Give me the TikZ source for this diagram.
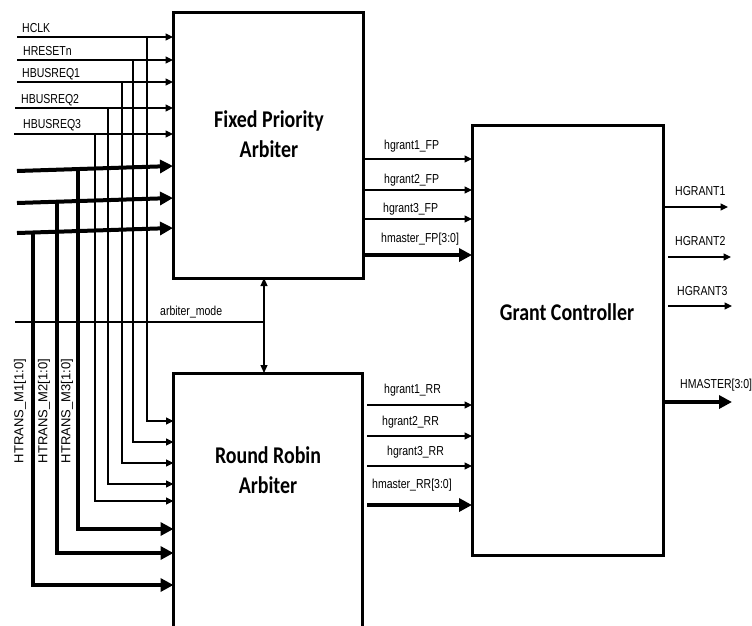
\documentclass[tikz,border=0pt]{standalone}
\usepackage{fontspec}
\setmainfont{Liberation Sans}
\newfontfamily\titlefont{Carlito}
\usetikzlibrary{arrows.meta}
\begin{document}
\begin{tikzpicture}[x=1pt,y=-1pt,
  box/.style={draw,line width=3pt,inner sep=0pt,outer sep=0pt},
  wire/.style={line width=1.1pt},
  wirearr/.style={line width=1.1pt,-{Triangle[length=7.5pt,width=7pt]}},
  bus/.style={line width=4pt},
  busarr/.style={line width=4pt,line join=miter,-{Triangle[length=13pt,width=13pt]}},
  lbl/.style={font=\fontsize{13}{15}\selectfont,inner sep=0pt,anchor=base west,xscale=0.81},
  vlbl/.style={font=\fontsize{13}{15}\selectfont,inner sep=0pt,rotate=90},
  ttl/.style={font=\titlefont\bfseries\fontsize{24}{30}\selectfont,align=center,xscale=0.83,inner sep=0pt}]
\useasboundingbox (0,0) rectangle (752,625);

% blocks
\node[box,minimum width=190pt,minimum height=266pt] (fp) at (268,145) {};
\node[box,minimum width=189pt,minimum height=267pt] (rr) at (268,506.5) {};
\node[box,minimum width=191pt,minimum height=430pt] (gc) at (567.5,340) {};
\node[ttl] (fpt) at (269,134) {Fixed Priority\\Arbiter};
\node[ttl] (rrt) at (268,470) {Round Robin\\Arbiter};
\node[ttl] (gct) at (567,312) {Grant Controller};

% single-bit inputs
\coordinate (in1) at (17,37);
\coordinate (in2) at (17,60);
\coordinate (in3) at (17,82);
\coordinate (in4) at (15,108);
\coordinate (in5) at (14,134);
\foreach \i in {1,...,5} {\draw[wirearr] (in\i) -- (in\i -| fp.west);}
\node[lbl] (l1) at (22,32) {HCLK};
\node[lbl] (l2) at (23,55) {HRESETn};
\node[lbl] (l3) at (22,77) {HBUSREQ1};
\node[lbl] (l4) at (21,103) {HBUSREQ2};
\node[lbl] (l5) at (23,128) {HBUSREQ3};

% branches to round robin
\coordinate (j1) at (147,37);
\coordinate (j2) at (133,60);
\coordinate (j3) at (122,82);
\coordinate (j4) at (108,108);
\coordinate (j5) at (95,134);
\draw[wirearr] (j1) |- (rr.west |- 0,421);
\draw[wirearr] (j2) |- (rr.west |- 0,442);
\draw[wirearr] (j3) |- (rr.west |- 0,463);
\draw[wirearr] (j4) |- (rr.west |- 0,484);
\draw[wirearr] (j5) |- (rr.west |- 0,501);

% HTRANS buses
\coordinate (t1) at (17,171);
\coordinate (t2) at (17,203);
\coordinate (t3) at (17,233);
\draw[busarr] (t1) -- (fp.west |- 0,166);
\draw[busarr] (t2) -- (fp.west |- 0,198);
\draw[busarr] (t3) -- (fp.west |- 0,228);
\coordinate (k1) at (78,169);
\coordinate (k2) at (57,201.5);
\coordinate (k3) at (33,232.5);
\draw[busarr] (k1) |- (rr.west |- 0,529);
\draw[busarr] (k2) |- (rr.west |- 0,553);
\draw[busarr] (k3) |- (rr.west |- 0,585);
\node[vlbl] (m1) at (20,411) {HTRANS\_M1[1:0]};
\node[vlbl] (m2) at (44,411) {HTRANS\_M2[1:0]};
\node[vlbl] (m3) at (67,411) {HTRANS\_M3[1:0]};

% arbiter mode
\coordinate (amin) at (15,322);
\coordinate (amj) at (264,322);
\draw[wire] (amin) -- (amj);
\draw[wire,{Triangle[length=8pt,width=7pt]}-{Triangle[length=8pt,width=7pt]}] (fp.south -| amj) -- (rr.north -| amj);
\node[lbl] (aml) at (160,315) {arbiter\_mode};

% fixed priority outputs
\draw[wirearr] (fp.east |- 0,159) -- (gc.west |- 0,159);
\draw[wirearr] (fp.east |- 0,190) -- (gc.west |- 0,190);
\draw[wirearr] (fp.east |- 0,219) -- (gc.west |- 0,219);
\draw[busarr] (fp.east |- 0,255) -- (gc.west |- 0,255);
\node[lbl] (f1) at (384,149) {hgrant1\_FP};
\node[lbl] (f2) at (384,183) {hgrant2\_FP};
\node[lbl] (f3) at (383,212) {hgrant3\_FP};
\node[lbl] (f4) at (381,242) {hmaster\_FP[3:0]};

% round robin outputs
\coordinate (r1) at (367,405);
\coordinate (r2) at (367,436);
\coordinate (r3) at (367,466);
\coordinate (r4) at (367,505);
\draw[wirearr] (r1) -- (r1 -| gc.west);
\draw[wirearr] (r2) -- (r2 -| gc.west);
\draw[wirearr] (r3) -- (r3 -| gc.west);
\draw[busarr] (r4) -- (r4 -| gc.west);
\node[lbl] (g1) at (384,393) {hgrant1\_RR};
\node[lbl] (g2) at (382,425) {hgrant2\_RR};
\node[lbl] (g3) at (387,455) {hgrant3\_RR};
\node[lbl] (g4) at (372,488) {hmaster\_RR[3:0]};

% grant controller outputs
\coordinate (o1) at (728,207);
\coordinate (o2s) at (668,257);
\coordinate (o2) at (731,257);
\coordinate (o3s) at (668,306);
\coordinate (o3) at (732,306);
\coordinate (o4) at (732,402);
\draw[wirearr] (gc.east |- o1) -- (o1);
\draw[wirearr] (o2s) -- (o2);
\draw[wirearr] (o3s) -- (o3);
\draw[busarr] (gc.east |- o4) -- (o4);
\node[lbl] (h1) at (675,195) {HGRANT1};
\node[lbl] (h2) at (675,245) {HGRANT2};
\node[lbl] (h3) at (677,295) {HGRANT3};
\node[lbl] (h4) at (680,388) {HMASTER[3:0]};
\end{tikzpicture}
\end{document}
